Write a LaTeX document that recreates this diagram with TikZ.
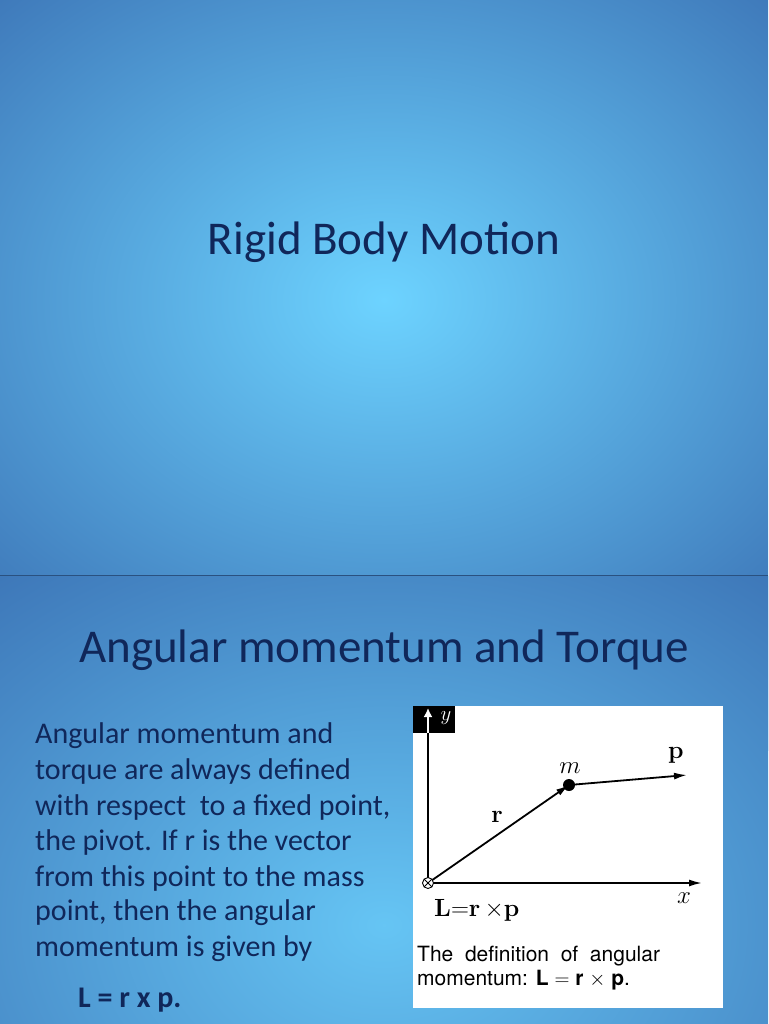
\documentclass[tikz,border=0pt]{standalone}
\usepackage[no-math]{fontspec}
\setmainfont{Carlito}
\newfontfamily\helv{TeX Gyre Heros}
\usetikzlibrary{arrows.meta,calc}
\definecolor{navy}{HTML}{10275A}
\definecolor{lightb}{HTML}{6DD3FF}
\definecolor{darkb}{HTML}{3C74B6}
\tikzset{ax/.style={line width=1.8pt,-{Latex[length=13pt,width=7pt]}},
 body/.style={anchor=west,text=navy,font=\fontsize{30}{34}\selectfont,inner sep=0}}
\begin{document}
\begin{tikzpicture}[x=1pt,y=-1pt]
\useasboundingbox (0,0) rectangle (768,1024);
\clip (0,0) rectangle (768,1024);
\shade[inner color=lightb,outer color=darkb] (-200,-150) rectangle (968,750);
\begin{scope}
\clip (0,576) rectangle (768,1024);
\shade[inner color=lightb!85!darkb,outer color=darkb] (-250,450) rectangle (1018,1400);
\end{scope}
\fill[darkb!70!black] (0,575) rectangle (768,576);
\node[text=navy,font=\fontsize{47}{50}\selectfont] (t1) at (384,242) {Rigid Body Motion};
\node[text=navy,font=\fontsize{47}{50}\selectfont] (t2) at (384,650) {Angular momentum and Torque};
\node[body] (b1) at (35,736) {Angular momentum and};
\node[body] (b2) at (35,771) {torque are always defined};
\node[body] (b3) at (35,807) {with respect\ \ to a fixed point,};
\node[body] (b4) at (35,842) {the pivot. If r is the vector};
\node[body] (b5) at (35,878) {from this point to the mass};
\node[body] (b6) at (35,913) {point, then the angular};
\node[body] (b7) at (35,949) {momentum is given by};
\node[body,font=\fontsize{30}{34}\selectfont\bfseries] (b8) at (78,1000) {L = r x p.};
% figure
\fill[white] (413,706) rectangle (723,1008);
\fill[black] (413,706) rectangle (455,733);
\coordinate (o) at (428,883);
\coordinate (ytop) at (428,708);
\coordinate (xend) at (702,883);
\coordinate (m) at (569,785);
\coordinate (pend) at (687,775);
\draw[line width=1.8pt] (428,885) -- (428,733);
\draw[white,line width=1.8pt,-{Latex[length=9pt,width=9pt]}] (428,733) -- (ytop);
\node[white,font=\fontsize{22}{22}\selectfont] (ylab) at (446,718) {$y$};
\draw[ax] (o) -- (xend);
\draw[ax] (o) -- (m);
\draw[ax] (m) -- (pend);
\fill (m) circle (6);
\draw[fill=white,line width=0.9pt] (o) circle (5.5);
\draw[line width=0.8pt] ($(o)+(-3.8,-3.8)$) -- ($(o)+(3.8,3.8)$) ($(o)+(-3.8,3.8)$) -- ($(o)+(3.8,-3.8)$);
\node[font=\fontsize{24}{24}\selectfont] (ml) at (570,768) {$m$};
\node[font=\fontsize{28}{28}\selectfont] (pl) at (676,755) {$\mathbf{p}$};
\node[font=\fontsize{28}{28}\selectfont] (rl) at (497,817) {$\mathbf{r}$};
\node[font=\fontsize{24}{24}\selectfont] (xl) at (684,898) {$x$};
\node[font=\fontsize{28}{28}\selectfont,anchor=west,inner sep=0] (ll) at (434,910) {$\mathbf{L}{=}\mathbf{r}\,{\times}\mathbf{p}$};
\node[font=\helv\fontsize{21}{21}\selectfont,anchor=west,inner sep=0] (c1) at (417,956) {The\ \ definition\ \ of\ \ angular};
\node[font=\helv\fontsize{21}{21}\selectfont,anchor=west,inner sep=0] (c2) at (417,980) {momentum: \textbf{L} $=$ \textbf{r} $\times$ \textbf{p}.};
\end{tikzpicture}
\end{document}
